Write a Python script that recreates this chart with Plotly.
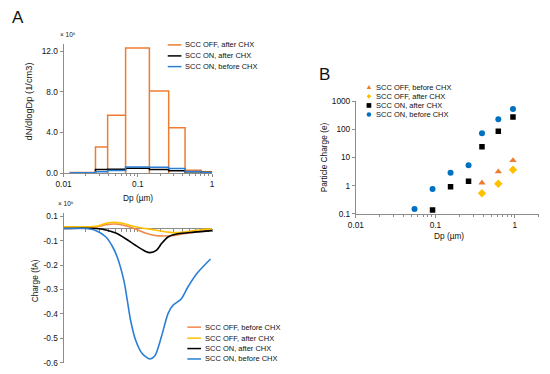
import plotly.graph_objects as go

# ---------------- data ----------------
# Panel A (top): size distribution, dN/dlogDp (x 10^6 1/cm3)
bin_edges = [0.0122, 0.0269, 0.0392, 0.0684, 0.143, 0.26, 0.432, 0.716, 1.0]
dn_off_after = [0.05, 2.56, 5.7, 12.32, 8.1, 4.48, 0.29, 0.13]
dn_on_after = [0.04, 0.36, 0.38, 0.48, 0.36, 0.22, 0.13, 0.05]
dn_on_before = [0.04, 0.13, 0.26, 0.60, 0.58, 0.45, 0.16, 0.05]

# Panel A (bottom): charge (fA, x 10^6)
dp_off_before = [0.01, 0.0275, 0.0372, 0.0505, 0.0685, 0.0927, 0.1255, 0.1694, 0.2305, 0.3124, 0.4677, 0.7026, 1.0]
q_off_before = [0.005, 0.006, 0.015, 0.018, 0.011, -0.002, -0.019, -0.029, -0.031, -0.029, -0.019, -0.011, -0.006]

dp_off_after = [0.01, 0.0275, 0.0372, 0.048, 0.0619, 0.0838, 0.1135, 0.1694, 0.2548, 0.3454, 0.5188, 0.7762, 1.0]
q_off_after = [0.007, 0.009, 0.021, 0.025, 0.021, 0.010, 0.002, -0.006, -0.015, -0.017, -0.011, -0.003, -0.002]

dp_on_after = [0.01, 0.0275, 0.0372, 0.0505, 0.0685, 0.0927, 0.1255, 0.1457, 0.179, 0.2083, 0.2548, 0.3454, 0.574, 1.0]
q_on_after = [0.0, 0.0, -0.006, -0.019, -0.042, -0.069, -0.093, -0.099, -0.089, -0.062, -0.035, -0.022, -0.015, -0.009]

dp_on_before = [0.01, 0.0203, 0.0275, 0.0372, 0.0457, 0.0532, 0.065, 0.0721, 0.0797, 0.0927, 0.1135, 0.1457,
                0.1694, 0.2083, 0.2548, 0.2965, 0.3828, 0.4677, 0.6343, 0.9526]
q_on_before = [0.0, 0.0, -0.009, -0.035, -0.075, -0.12, -0.215, -0.295, -0.375, -0.455, -0.511, -0.535,
               -0.522, -0.442, -0.349, -0.315, -0.289, -0.242, -0.182, -0.125]

# Panel B: particle charge (e)
b_dp_off = [0.385, 0.618, 0.945]
b_off_before = [1.26, 3.13, 7.87]
b_off_after = [0.54, 1.16, 3.66]
b_dp_on_after = [0.092, 0.155, 0.261, 0.385, 0.618, 0.945]
b_on_after = [0.135, 0.916, 1.44, 24, 86, 277]
b_dp_on_before = [0.0546, 0.092, 0.155, 0.261, 0.385, 0.618, 0.945]
b_on_before = [0.147, 0.763, 2.88, 5.29, 73.3, 231, 537]

top_yticks = [0, 4, 8, 12]
top_yticktext = ["0.0", "4.0", "8.0", "12.0"]
bot_yticks = [0.05, -0.05, -0.15, -0.25, -0.35, -0.45, -0.55]
bot_yticktext = ["0.1", "-0.1", "-0.2", "-0.3", "-0.4", "-0.5", "-0.6"]
log_major = [0.01, 0.1, 1]
log_major_text = ["0.01", "0.1", "1"]
b_yticks = [0.1, 1, 10, 100, 1000]
b_yticktext = ["0.1", "1", "10", "100", "1000"]

ORANGE = "#ED7D31"
YELLOW = "#FFC000"
BLACK = "#000000"
BLUE_L = "#2A7FD4"
BLUE_M = "#0070C0"
FONT = "Liberation Sans"
AX = "#8C8C8C"
TXT = "#111111"

W, H = 550, 374
def X(px): return px / W
def Y(py): return 1 - py / H

fig = go.Figure()

# ---- top panel histogram (orange outlined bars) ----
ox, oy = [], []
for i, h in enumerate(dn_off_after):
    ox += [bin_edges[i], bin_edges[i], bin_edges[i + 1], bin_edges[i + 1]]
    oy += [0, h, h, 0]
fig.add_trace(go.Scatter(x=ox, y=oy, mode="lines", line=dict(color=ORANGE, width=1.5),
                         xaxis="x", yaxis="y", showlegend=False))
for vals, col in [(dn_on_after, BLACK), (dn_on_before, BLUE_L)]:
    fig.add_trace(go.Scatter(x=bin_edges, y=vals + [vals[-1]], mode="lines", line_shape="hv",
                             line=dict(color=col, width=1.5), xaxis="x", yaxis="y", showlegend=False))

# ---- bottom panel charge curves ----
for xs, ys, col in [(dp_off_before, q_off_before, "#F08A4B"), (dp_off_after, q_off_after, YELLOW),
                    (dp_on_after, q_on_after, BLACK), (dp_on_before, q_on_before, BLUE_L)]:
    fig.add_trace(go.Scatter(x=xs, y=ys, mode="lines", line=dict(color=col, width=1.6, shape="spline", smoothing=0.8),
                             xaxis="x2", yaxis="y2", showlegend=False))

# ---- panel B scatter ----
fig.add_trace(go.Scatter(x=b_dp_off, y=b_off_before, mode="markers",
                         marker=dict(symbol="triangle-up", size=6.5, color=ORANGE), xaxis="x3", yaxis="y3", showlegend=False))
fig.add_trace(go.Scatter(x=b_dp_off, y=b_off_after, mode="markers",
                         marker=dict(symbol="diamond", size=6.5, color=YELLOW), xaxis="x3", yaxis="y3", showlegend=False))
fig.add_trace(go.Scatter(x=b_dp_on_after, y=b_on_after, mode="markers",
                         marker=dict(symbol="square", size=5.5, color=BLACK), xaxis="x3", yaxis="y3", showlegend=False))
fig.add_trace(go.Scatter(x=b_dp_on_before, y=b_on_before, mode="markers",
                         marker=dict(symbol="circle", size=6, color=BLUE_M), xaxis="x3", yaxis="y3", showlegend=False))

tickfont = dict(family=FONT, size=8.3, color=TXT)
minor_vals = [k * 10 ** e for e in (-2, -1) for k in range(2, 10)]
common_ax = dict(showline=True, linecolor=AX, linewidth=1, ticks="outside", tickcolor=AX, ticklen=3,
                 showgrid=False, zeroline=False, tickfont=tickfont)

top_dom = [X(56.7), X(208.3)]
fig.update_layout(
    width=W, height=H, margin=dict(l=0, r=0, t=0, b=0),
    paper_bgcolor="white", plot_bgcolor="white", showlegend=False,
    font=dict(family=FONT, color=TXT),
    xaxis=dict(type="log", range=[-2, 0], domain=top_dom, anchor="y",
               tickmode="array", tickvals=log_major, ticktext=log_major_text,
               minor=dict(tickmode="array", tickvals=minor_vals, ticks="outside", ticklen=2, tickcolor=AX),
               **common_ax),
    yaxis=dict(range=[0, 12.73], domain=[Y(172.7), Y(40)], anchor="x",
               tickmode="array", tickvals=top_yticks, ticktext=top_yticktext, **common_ax),
    xaxis2=dict(type="log", range=[-2, 0], domain=top_dom, anchor="free", position=Y(229.5),
                showticklabels=False, layer="below traces",
                tickmode="array", tickvals=log_major,
                minor=dict(tickmode="array", tickvals=minor_vals, ticks="outside", ticklen=3, tickcolor=AX),
                **common_ax),
    yaxis2=dict(range=[-0.55, 0.065], domain=[Y(367.5), Y(213.3)], anchor="x2",
                tickmode="array", tickvals=bot_yticks, ticktext=bot_yticktext, **common_ax),
    xaxis3=dict(type="log", range=[-2, 0.301], domain=[X(355), X(541.7)], anchor="y3",
                tickmode="array", tickvals=log_major, ticktext=log_major_text,
                minor=dict(tickmode="array", tickvals=minor_vals + [2], ticks="outside", ticklen=2, tickcolor=AX),
                **common_ax),
    yaxis3=dict(type="log", range=[-1, 3], domain=[Y(214.5), Y(99)], anchor="x3",
                tickmode="array", tickvals=b_yticks, ticktext=b_yticktext, **common_ax),
)

ann = []
def text(px, py, s, size=7.5, xanchor="center", angle=0, color=TXT):
    ann.append(dict(x=X(px), y=Y(py), xref="paper", yref="paper", text=s, showarrow=False,
                    xanchor=xanchor, yanchor="middle", textangle=angle,
                    font=dict(family=FONT, size=size, color=color)))

text(10, 13, "A", size=17)
text(323, 71, "B", size=17)
text(61, 30, "× 10⁶", size=6.5)
text(59, 204, "× 10⁶", size=6.5)
text(133, 198, "Dp (µm)", size=8.3)
text(21.5, 99, "dN/dlogDp (1/cm3)", size=9.3, angle=-90)
text(28.5, 283, "Charge (fA)", size=8.3, angle=-90)
text(322, 157, "Particle Charge (e)", size=8.3, angle=-90)
text(450, 237, "Dp (µm)", size=8.3)

shapes = []
# legend: top panel
for py, col, lab in [(41, ORANGE, "SCC OFF, after CHX"), (52.3, BLACK, "SCC ON, after CHX"),
                     (63.3, BLUE_L, "SCC ON, before CHX")]:
    shapes.append(dict(type="line", xref="paper", yref="paper", x0=X(163), x1=X(177), y0=Y(py), y1=Y(py),
                       line=dict(color=col, width=1.5)))
    text(178.5, py, lab, size=7.5, xanchor="left")
# legend: bottom panel
for py, col, lab in [(331, "#F08A4B", "SCC OFF, before CHX"), (342.3, YELLOW, "SCC OFF, after CHX"),
                     (353, BLACK, "SCC ON, after CHX"), (363.7, BLUE_L, "SCC ON, before CHX")]:
    shapes.append(dict(type="line", xref="paper", yref="paper", x0=X(183), x1=X(197), y0=Y(py), y1=Y(py),
                       line=dict(color=col, width=1.5)))
    text(198.5, py, lab, size=7.5, xanchor="left")
# legend: panel B
def mpath(kind, cx, cy, r=2.4):
    if kind == "tri":
        pts = [(cx, cy - r), (cx + r, cy + r * 0.8), (cx - r, cy + r * 0.8)]
    elif kind == "dia":
        pts = [(cx, cy - r), (cx + r, cy), (cx, cy + r), (cx - r, cy)]
    else:
        pts = [(cx - r, cy - r), (cx + r, cy - r), (cx + r, cy + r), (cx - r, cy + r)]
    return "M " + " L ".join(f"{X(a):.5f},{Y(b):.5f}" for a, b in pts) + " Z"

for py, col, kind, lab in [(84.5, ORANGE, "tri", "SCC OFF, before CHX"), (93.8, YELLOW, "dia", "SCC OFF, after CHX"),
                           (103.2, BLACK, "sq", "SCC ON, after CHX"), (112.6, BLUE_M, "circ", "SCC ON, before CHX")]:
    if kind == "circ":
        shapes.append(dict(type="circle", xref="paper", yref="paper", x0=X(366), x1=X(370.6),
                           y0=Y(py + 2.3), y1=Y(py - 2.3), fillcolor=col, line=dict(width=0)))
    else:
        shapes.append(dict(type="path", xref="paper", yref="paper", path=mpath(kind, 368.3, py),
                           fillcolor=col, line=dict(width=0)))
    text(373, py, lab, size=7.5, xanchor="left")

fig.update_layout(annotations=ann, shapes=shapes)
fig.write_html("out.html", config={"displayModeBar": False, "staticPlot": True},
               post_script="document.body.style.margin='0';document.body.style.padding='0';"
                           "document.body.style.overflow='hidden';")
